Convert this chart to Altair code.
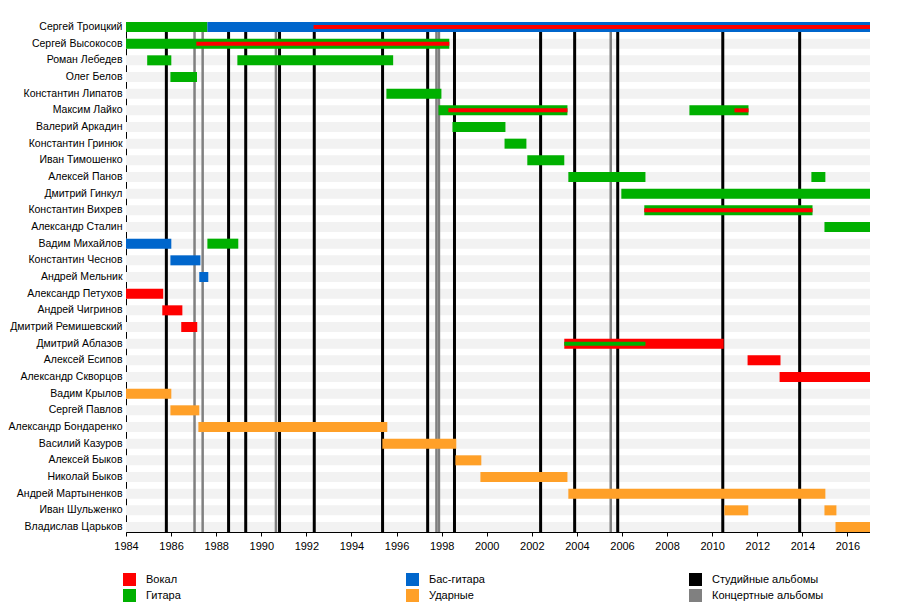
import altair as alt
import pandas as pd

members = ["Сергей Троицкий", "Сергей Высокосов", "Роман Лебедев", "Олег Белов",
           "Константин Липатов", "Максим Лайко", "Валерий Аркадин", "Константин Гринюк",
           "Иван Тимошенко", "Алексей Панов", "Дмитрий Гинкул", "Константин Вихрев",
           "Александр Сталин", "Вадим Михайлов", "Константин Чеснов", "Андрей Мельник",
           "Александр Петухов", "Андрей Чигринов", "Дмитрий Ремишевский", "Дмитрий Аблазов",
           "Алексей Есипов", "Александр Скворцов", "Вадим Крылов", "Сергей Павлов",
           "Александр Бондаренко", "Василий Казуров", "Алексей Быков", "Николай Быков",
           "Андрей Мартыненков", "Иван Шульженко", "Владислав Царьков"]

# main bars
bar_member = ["Сергей Троицкий", "Сергей Троицкий", "Сергей Высокосов", "Роман Лебедев", "Роман Лебедев",
              "Олег Белов", "Константин Липатов", "Максим Лайко", "Максим Лайко", "Валерий Аркадин",
              "Константин Гринюк", "Иван Тимошенко", "Алексей Панов", "Алексей Панов", "Дмитрий Гинкул",
              "Константин Вихрев", "Александр Сталин", "Вадим Михайлов", "Вадим Михайлов",
              "Константин Чеснов", "Андрей Мельник", "Александр Петухов", "Андрей Чигринов",
              "Дмитрий Ремишевский", "Дмитрий Аблазов", "Алексей Есипов", "Александр Скворцов",
              "Вадим Крылов", "Сергей Павлов", "Александр Бондаренко", "Василий Казуров",
              "Алексей Быков", "Николай Быков", "Андрей Мартыненков", "Иван Шульженко",
              "Иван Шульженко", "Владислав Царьков"]
bar_role = ["Гитара", "Бас-гитара", "Гитара", "Гитара", "Гитара",
            "Гитара", "Гитара", "Гитара", "Гитара", "Гитара",
            "Гитара", "Гитара", "Гитара", "Гитара", "Гитара",
            "Гитара", "Гитара", "Бас-гитара", "Гитара",
            "Бас-гитара", "Бас-гитара", "Вокал", "Вокал",
            "Вокал", "Вокал", "Вокал", "Вокал",
            "Ударные", "Ударные", "Ударные", "Ударные",
            "Ударные", "Ударные", "Ударные", "Ударные",
            "Ударные", "Ударные"]
bar_start = [1984.0, 1987.61, 1984.0, 1984.94, 1988.94,
             1985.97, 1995.55, 1997.86, 2008.99, 1998.48,
             2000.79, 2001.80, 2003.62, 2014.40, 2005.97,
             2006.99, 2014.98, 1984.0, 1987.61,
             1985.97, 1987.25, 1984.0, 1985.61,
             1986.45, 2003.44, 2011.57, 2012.99,
             1984.0, 1985.97, 1987.21, 1995.37,
             1998.61, 1999.72, 2003.62, 2010.54,
             2014.98, 2015.47]
bar_end = [1987.61, 2017.0, 1998.34, 1986.01, 1995.85,
           1987.15, 1997.99, 2003.58, 2011.61, 2000.83,
           2001.76, 2003.44, 2007.04, 2015.02, 2017.0,
           2014.45, 2017.0, 1986.01, 1988.98,
           1987.30, 1987.65, 1985.65, 1986.50,
           1987.16, 2010.51, 2013.03, 2017.0,
           1986.01, 1987.25, 1995.59, 1998.65,
           1999.76, 2003.58, 2015.02, 2011.60,
           2015.51, 2017.0]

# thin (secondary role) bars
thin_member = ["Сергей Троицкий", "Сергей Высокосов", "Максим Лайко", "Максим Лайко",
               "Константин Вихрев", "Дмитрий Аблазов"]
thin_role = ["Вокал", "Вокал", "Вокал", "Вокал", "Вокал", "Гитара"]
thin_start = [1992.32, 1987.12, 1998.30, 2010.99, 2006.99, 2003.44]
thin_end = [2017.0, 1998.34, 2003.58, 2011.61, 2014.45, 2007.04]

studio_albums = [1985.79, 1988.55, 1989.31, 1990.81, 1992.35, 1995.38, 1997.38,
                 1998.57, 2002.39, 2003.90, 2005.81, 2010.47, 2013.88]
live_albums = [1987.04, 1987.40, 1990.65, 1997.77, 1997.88, 2005.50]

year_start, year_end = 1984, 2017

legend_order = ["Вокал", "Гитара", "Бас-гитара", "Ударные",
                "Студийные альбомы", "Концертные альбомы"]
legend_colors = ["#ff0000", "#00b000", "#0066cc", "#ffa028",
                 "#000000", "#808080"]

bars = pd.DataFrame({"member": bar_member, "cat": bar_role, "start": bar_start, "end": bar_end})
thin = pd.DataFrame({"member": thin_member, "cat": thin_role, "start": thin_start, "end": thin_end})
bg = pd.DataFrame({"member": members, "start": [year_start] * len(members), "end": [year_end] * len(members)})
studio = pd.DataFrame({"year": studio_albums, "cat": ["Студийные альбомы"] * len(studio_albums)})
live = pd.DataFrame({"year": live_albums, "cat": ["Концертные альбомы"] * len(live_albums)})

xscale = alt.Scale(domain=[year_start, year_end], nice=False, zero=False)
xaxis = alt.Axis(values=list(range(year_start, year_end + 1)), format="d",
                 labelExpr="datum.value % 2 == 0 ? datum.label : ''",
                 title=None, grid=False, tickSize=4, tickColor="#000", domainColor="#000",
                 labelColor="#000", labelFontSize=11, labelPadding=4, labelFlush=False)
yenc = alt.Y("member:N", sort=members,
             scale=alt.Scale(paddingInner=0.4, paddingOuter=0),
             axis=alt.Axis(title=None, ticks=False, domainColor="#000", labelColor="#000",
                           labelFontSize=10.5, labelPadding=4, grid=False, labelLimit=300))
color = alt.Color("cat:N", scale=alt.Scale(domain=legend_order, range=legend_colors),
                  legend=alt.Legend(title=None, orient="none", legendX=-3, legendY=551,
                                    columns=3, gridAlign="all", columnPadding=148,
                                    rowPadding=3, symbolType="square", symbolSize=169,
                                    symbolStrokeWidth=0, labelOffset=10, labelFontSize=11,
                                    labelColor="#000", labelLimit=300))

background = alt.Chart(bg).mark_bar(color="#f2f2f2").encode(
    x=alt.X("start:Q", scale=xscale, axis=xaxis), x2="end:Q", y=yenc)

studio_rules = alt.Chart(studio).mark_rule(strokeWidth=3).encode(
    x=alt.X("year:Q", scale=xscale), color=color)
live_rules = alt.Chart(live).mark_rule(strokeWidth=2.5).encode(
    x=alt.X("year:Q", scale=xscale), color=color)

main_bars = alt.Chart(bars).mark_bar().encode(
    x=alt.X("start:Q", scale=xscale), x2="end:Q", y=yenc, color=color)
thin_bars = alt.Chart(thin).mark_bar(height=4).encode(
    x=alt.X("start:Q", scale=xscale), x2="end:Q", y=yenc, color=color)

chart = alt.layer(background, studio_rules, live_rules, main_bars, thin_bars).properties(
    width=744, height=510,
    padding={"left": 0, "top": 12, "right": 0, "bottom": 0},
).configure(font="Liberation Sans").configure_view(strokeWidth=0)

chart.save("out.html", embed_options={"renderer": "svg", "actions": False})
